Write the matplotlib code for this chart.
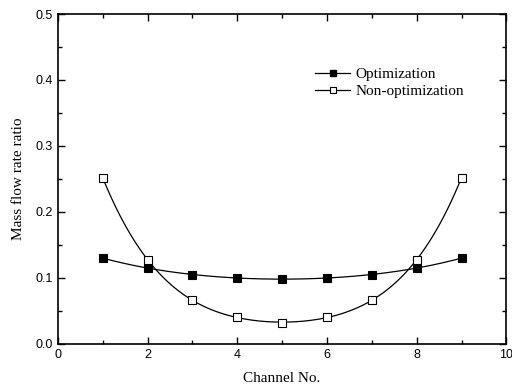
import numpy as np
import matplotlib
matplotlib.use("Agg")
import matplotlib.pyplot as plt
from matplotlib.ticker import MultipleLocator

channel = [1, 2, 3, 4, 5, 6, 7, 8, 9]
optimized = [0.130, 0.115, 0.105, 0.100, 0.098, 0.100, 0.105, 0.115, 0.130]
non_optimized = [0.252, 0.127, 0.067, 0.040, 0.032, 0.040, 0.067, 0.127, 0.252]

fig = plt.figure(figsize=(5.12, 3.89), dpi=100)
ax = fig.add_axes([0.113, 0.116, 0.876, 0.848])

# smooth fitted curves through the points
xs = np.linspace(1, 9, 200)
opt_fit = np.polyval(np.polyfit(channel, optimized, 4), xs)
non_fit = np.polyval(np.polyfit(channel, non_optimized, 4), xs)

ax.plot(xs, opt_fit, color="black", lw=0.9)
ax.plot(xs, non_fit, color="black", lw=0.9)
ax.plot(channel, optimized, "s", ms=5.5, mfc="black", mec="black", mew=0.8)
ax.plot(channel, non_optimized, "s", ms=5.5, mfc="white", mec="black", mew=0.8)

# legend handles
ax.plot([], [], "-s", color="black", lw=0.9, ms=4.5, mfc="black", label="Optimization")
ax.plot([], [], "-s", color="black", lw=0.9, ms=4.5, mfc="white", mew=0.8, label="Non-optimization")
leg = ax.legend(loc="upper left", bbox_to_anchor=(0.557, 0.862), frameon=False,
                prop={"family": "Liberation Serif", "size": 11},
                handlelength=2.3, handletextpad=0.3, labelspacing=0.25, borderpad=0)

ax.set_xlim(0, 10)
ax.set_ylim(0, 0.5)
ax.xaxis.set_major_locator(MultipleLocator(2))
ax.xaxis.set_minor_locator(MultipleLocator(1))
ax.yaxis.set_major_locator(MultipleLocator(0.1))
ax.yaxis.set_minor_locator(MultipleLocator(0.05))
ax.tick_params(which="both", direction="in", top=True, right=True, width=1)
ax.tick_params(which="major", length=5, labelsize=9)
ax.tick_params(which="minor", length=3)
for lab in ax.get_xticklabels() + ax.get_yticklabels():
    lab.set_family("Liberation Sans")
for s in ax.spines.values():
    s.set_linewidth(1.2)

ax.set_xlabel("Channel No.", family="Liberation Serif", fontsize=11, labelpad=8)
ax.set_ylabel("Mass flow rate ratio", family="Liberation Serif", fontsize=11, labelpad=8)

fig.savefig("out.png", dpi=100)
